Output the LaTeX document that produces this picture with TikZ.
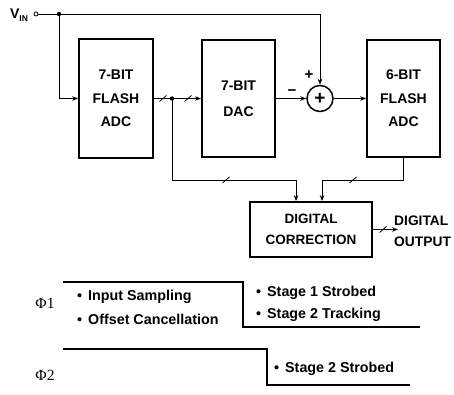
\documentclass[tikz,border=0pt]{standalone}
\usepackage{fontspec}
\setmainfont{Liberation Sans}
\newfontfamily\phifont{Liberation Serif}
\usetikzlibrary{arrows.meta,calc}
\tikzset{
  blk/.style={draw, line width=1.8pt, align=center, inner sep=0pt,
    font=\bfseries\fontsize{14}{23.5}\selectfont},
  conn/.style={line width=0.9pt},
  arr/.style={-{Stealth[length=6pt,width=4.5pt]}},
  slashline/.style={line width=0.8pt},
  wave/.style={line width=1.8pt},
  lbl/.style={font=\bfseries\fontsize{13.8}{21}\selectfont, inner sep=0pt, align=left},
  tlbl/.style={font=\bfseries\fontsize{14.3}{15}\selectfont, inner sep=0pt, anchor=west},
  phi/.style={font=\phifont\fontsize{15.5}{16}\selectfont, inner sep=0pt},
}
\newcommand\slashmark[1]{\draw[slashline] ($(#1)+(-3.5,3)$) -- ++(7,-6);}
\begin{document}
\begin{tikzpicture}[x=1pt,y=-1pt]
\useasboundingbox (0,0) rectangle (454,395);
% blocks
\node[blk, minimum width=74pt, minimum height=119pt] (adc1) at (116,98.5) {7-BIT\\FLASH\\ADC};
\node[blk, minimum width=73pt, minimum height=117pt, font=\bfseries\fontsize{14}{26}\selectfont] (dac) at (238.5,98.5) {7-BIT\\DAC};
\node[draw, circle, line width=1.5pt, minimum size=26pt, inner sep=0pt, font=\bfseries\fontsize{19}{19}\selectfont] (sum) at (320,98.5) {+};
\node[blk, minimum width=73pt, minimum height=117pt] (adc2) at (403.5,98.5) {6-BIT\\FLASH\\ADC};
\node[blk, minimum width=122pt, minimum height=55pt, font=\bfseries\fontsize{13.5}{21}\selectfont] (dc) at (311,229.5) {DIGITAL\\CORRECTION};
% input
\node[inner sep=0pt, font=\bfseries\fontsize{14}{14}\selectfont] (vin) at (19,15) {V\raisebox{-3pt}{\fontsize{8.5}{8.5}\selectfont IN}};
\coordinate (vinc) at (36,14);
\coordinate (j1) at (59,14);
\coordinate (top) at (320,14);
\draw[line width=0.8pt] (vinc) circle (2pt);
\draw[conn,arr] ($(vinc)+(2,0)$) -- (top) -- (sum.north);
\fill (j1) circle (2.2pt);
\draw[conn,arr] (j1) |- (adc1.west);
% adc1 -> dac
\draw[conn,arr] (adc1.east) -- (dac.west);
\coordinate (j2) at (172,98.5);
\fill (j2) circle (2.2pt);
\slashmark{163,98.5}
\slashmark{188,98.5}
% to correction
\coordinate (c1) at (296,180);
\coordinate (c2) at (322,180);
\draw[conn,arr] (j2) |- (c1) -- (c1 |- dc.north);
\slashmark{226,180}
\draw[conn,arr] (adc2.south) |- (c2) -- (c2 |- dc.north);
\slashmark{353,180}
% dac -> sum -> adc2
\draw[conn,arr] (dac.east) -- (sum.west);
\draw[conn,arr] (sum.east) -- (adc2.west);
\node[font=\bfseries\fontsize{15}{15}\selectfont, inner sep=0pt] (plus) at (309,75) {+};
\node[font=\bfseries\fontsize{15}{15}\selectfont, inner sep=0pt] (minus) at (292,93) {−};
% output
\coordinate (out) at (398,229.5);
\draw[conn,arr] (dc.east) -- (out);
\slashmark{383,229.5}
\node[lbl, anchor=west] (dout) at (394,231.5) {DIGITAL\\OUTPUT};
% timing
\node[phi] (p1) at (45,303) {Φ1};
\node[phi] (p2) at (45,375) {Φ2};
\draw[wave] (63,282) -- (243,282) -- (243,327) -- (420,327);
\draw[wave] (63,349) -- (267,349) -- (267,385) -- (410,385);
\node[tlbl] (t1) at (77,297) {•\hspace{6pt}Input Sampling};
\node[tlbl] (t2) at (77,319) {•\hspace{6pt}Offset Cancellation};
\node[tlbl] (t3) at (256,293) {•\hspace{6pt}Stage 1 Strobed};
\node[tlbl] (t4) at (256,315) {•\hspace{6pt}Stage 2 Tracking};
\node[tlbl] (t5) at (274,369) {•\hspace{6pt}Stage 2 Strobed};
\end{tikzpicture}
\end{document}
